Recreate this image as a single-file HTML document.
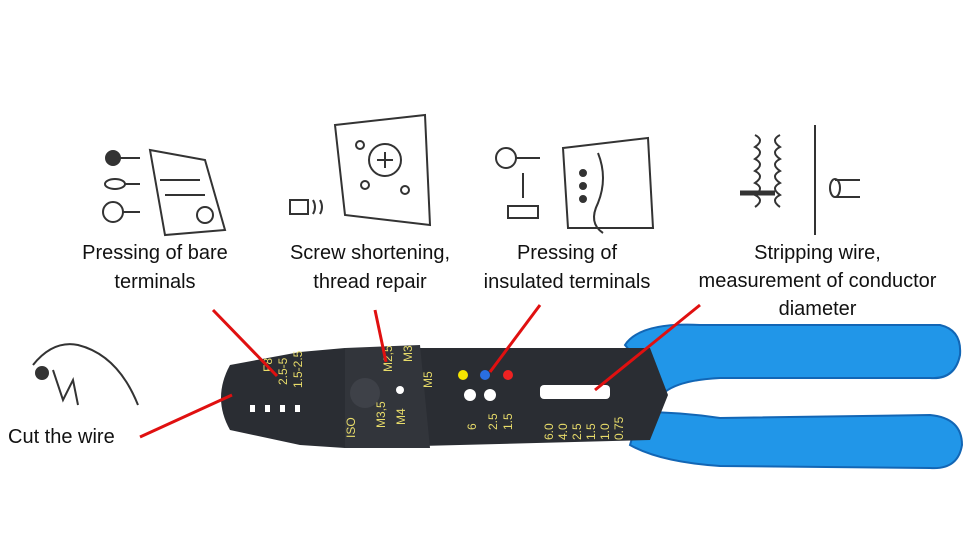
<!DOCTYPE html>
<html><head><meta charset="utf-8"><style>
html,body{margin:0;padding:0;background:#fff;}
body{width:980px;height:548px;overflow:hidden;position:relative;font-family:"Liberation Sans",sans-serif;}
.t{position:absolute;font-size:20px;color:#111;text-align:center;line-height:29px;}
</style></head><body>
<svg width="980" height="548" style="position:absolute;left:0;top:0">
<g stroke="#333" stroke-width="2" fill="none">
 <g transform="translate(95,140)">
  <circle cx="18" cy="18" r="7" fill="#333"/><line x1="25" y1="18" x2="45" y2="18"/>
  <ellipse cx="20" cy="44" rx="10" ry="5"/><line x1="30" y1="44" x2="45" y2="44"/>
  <circle cx="18" cy="72" r="10"/><line x1="28" y1="72" x2="45" y2="72"/>
  <path d="M55 10 L110 20 L130 90 L70 95 Z"/><circle cx="110" cy="75" r="8"/>
  <path d="M65 40 h40 M70 55 h40"/>
 </g>
 <g transform="translate(285,105)">
  <path d="M50 20 L140 10 L145 120 L60 110 Z"/><circle cx="100" cy="55" r="16"/>
  <path d="M92 55h16M100 47v16"/><circle cx="75" cy="40" r="4"/><circle cx="80" cy="80" r="4"/><circle cx="120" cy="85" r="4"/>
  <rect x="5" y="95" width="18" height="14"/><path d="M28 95 q4 7 0 14 M35 95 q4 7 0 14"/>
 </g>
 <g transform="translate(488,118)">
  <circle cx="18" cy="40" r="10"/><line x1="28" y1="40" x2="52" y2="40"/>
  <rect x="20" y="88" width="30" height="12"/><line x1="35" y1="55" x2="35" y2="80"/>
  <path d="M75 30 L160 20 L165 110 L80 110 Z"/><path d="M110 35 q10 25 0 50 q-10 20 5 30"/>
  <circle cx="95" cy="55" r="3" fill="#333"/><circle cx="95" cy="68" r="3" fill="#333"/><circle cx="95" cy="81" r="3" fill="#333"/>
 </g>
 <g transform="translate(720,125)">
  <path d="M35 10 q10 5 0 12 q10 5 0 12 q10 5 0 12 q10 5 0 12 q10 5 0 12 q10 5 0 12"/>
  <path d="M60 10 q-10 5 0 12 q-10 5 0 12 q-10 5 0 12 q-10 5 0 12 q-10 5 0 12 q-10 5 0 12"/>
  <line x1="20" y1="68" x2="55" y2="68" stroke-width="5"/><line x1="95" y1="0" x2="95" y2="110"/>
  <path d="M115 55 h25 M115 72 h25"/><ellipse cx="115" cy="63" rx="5" ry="9"/>
 </g>
 <g transform="translate(28,335)">
  <path d="M5 30 q20 -25 45 -20 q40 10 60 60"/><circle cx="14" cy="38" r="6" fill="#333"/>
  <path d="M25 35 l10 30 l10 -20 l5 25"/>
 </g>
</g>
<path d="M625 345 Q640 322 700 325 L940 325 Q962 330 960 355 Q955 380 930 378 L720 378 Q680 380 665 392 Z" fill="#2196e8" stroke="#1266b5" stroke-width="2"/>
<path d="M640 412 Q680 412 720 418 L930 415 Q962 418 962 445 Q958 470 930 468 L720 466 Q660 462 630 445 Z" fill="#2196e8" stroke="#1266b5" stroke-width="2"/>
<path d="M345 348 L650 348 L668 395 L650 440 L345 448 L300 445 L230 430 Q212 398 230 365 L300 352 Z" fill="#2a2d33"/>
<path d="M345 348 L420 345 L430 448 L345 448 Z" fill="#32353b"/>
<circle cx="365" cy="393" r="15" fill="#3e4148"/>
<g fill="#fff"><rect x="540" y="385" width="70" height="14" rx="4"/><circle cx="470" cy="395" r="6"/><circle cx="490" cy="395" r="6"/>
<rect x="250" y="405" width="5" height="7"/><rect x="265" y="405" width="5" height="7"/><rect x="280" y="405" width="5" height="7"/><rect x="295" y="405" width="5" height="7"/>
<circle cx="400" cy="390" r="4"/></g>
<circle cx="463" cy="375" r="5" fill="#f5e400"/><circle cx="485" cy="375" r="5" fill="#2a6ee0"/><circle cx="508" cy="375" r="5" fill="#e22"/>
<g fill="#e8dc6a" font-size="12" font-family="Liberation Sans">
<text transform="translate(355,438) rotate(-90)">ISO</text>
<text transform="translate(385,428) rotate(-90)">M3,5</text>
<text transform="translate(405,425) rotate(-90)">M4</text>
<text transform="translate(392,372) rotate(-90)">M2,5</text>
<text transform="translate(412,362) rotate(-90)">M3</text>
<text transform="translate(432,388) rotate(-90)">M5</text>
<text transform="translate(272,372) rotate(-90)">F8</text>
<text transform="translate(287,385) rotate(-90)">2.5-5</text>
<text transform="translate(302,388) rotate(-90)">1.5-2.5</text>
<text transform="translate(476,430) rotate(-90)">6</text>
<text transform="translate(497,430) rotate(-90)">2.5</text>
<text transform="translate(512,430) rotate(-90)">1.5</text>
<text transform="translate(553,440) rotate(-90)">6.0</text>
<text transform="translate(567,440) rotate(-90)">4.0</text>
<text transform="translate(581,440) rotate(-90)">2.5</text>
<text transform="translate(595,440) rotate(-90)">1.5</text>
<text transform="translate(609,440) rotate(-90)">1.0</text>
<text transform="translate(623,440) rotate(-90)">0.75</text>
</g>
<g stroke="#e01010" stroke-width="3">
<line x1="140" y1="437" x2="232" y2="395"/>
<line x1="213" y1="310" x2="277" y2="376"/>
<line x1="375" y1="310" x2="386" y2="362"/>
<line x1="540" y1="305" x2="490" y2="372"/>
<line x1="700" y1="305" x2="595" y2="390"/>
</g>
</svg>
<div class="t" style="left:55px;top:239px;width:200px">Pressing of bare<br>terminals</div>
<div class="t" style="left:270px;top:239px;width:200px">Screw shortening,<br>thread repair</div>
<div class="t" style="left:457px;top:239px;width:220px">Pressing of<br>insulated terminals</div>
<div class="t" style="left:675px;top:239px;width:285px;line-height:28px">Stripping wire,<br>measurement of conductor<br>diameter</div>
<div class="t" style="left:8px;top:423px;text-align:left">Cut the wire</div>
</body></html>
